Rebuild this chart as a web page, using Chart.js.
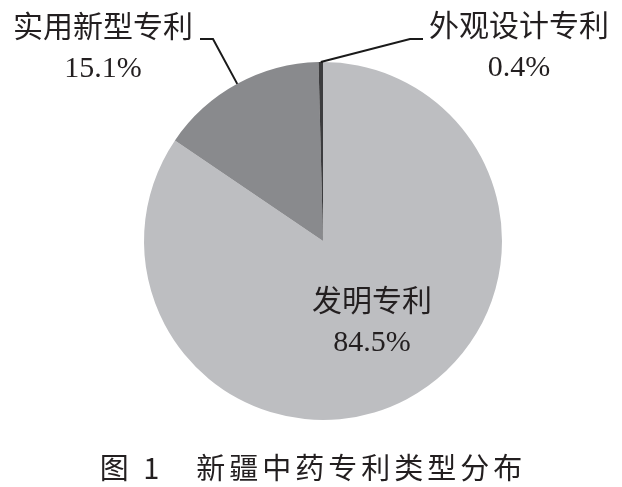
<!DOCTYPE html>
<html>
<head>
<meta charset="utf-8">
<script src="https://cdn.jsdelivr.net/npm/chart.js@4/dist/chart.umd.min.js"></script>
<style>
  html, body { margin: 0; padding: 0; background: #ffffff; }
  #wrap { width: 622px; height: 487px; position: relative; }
</style>
</head>
<body>
<div id="wrap"><canvas id="c" width="622" height="487"></canvas></div>
<script>
// Patent types and their shares (%)
const categories = ['发明专利', '实用新型专利', '外观设计专利'];
const shares = [84.5, 15.1, 0.4];
const sliceColors = ['#bdbec1', '#898a8d', '#3c3c3e'];
const caption = '图 1\u3000新疆中药专利类型分布';

const cjkFont = '"Noto Sans CJK SC", "Noto Sans", sans-serif';
const numFont = '"Liberation Serif", "DejaVu Serif", serif';
const inkColor = '#231f20';

// Where each slice's label block sits; slices with a leader get an elbow + tail.
const labelLayout = {
  '发明专利':     { cx: 372, nameY: 300, pctY: 343 },
  '实用新型专利': { cx: 103, nameY: 26, pctY: 69, elbow: [213, 39], tail: [200, 39] },
  '外观设计专利': { cx: 519, nameY: 25, pctY: 68, elbow: [410, 39], tail: [423, 39] }
};

const labelPlugin = {
  id: 'sliceLabels',
  afterDraw(chart) {
    const ctx = chart.ctx;
    const arcs = chart.getDatasetMeta(0).data;
    ctx.save();
    ctx.fillStyle = inkColor;
    ctx.strokeStyle = '#1a1a1a';
    ctx.textAlign = 'center';
    ctx.textBaseline = 'middle';
    categories.forEach((name, i) => {
      const L = labelLayout[name];
      const arc = arcs[i];
      if (L.elbow) {
        const mid = (arc.startAngle + arc.endAngle) / 2;
        const ex = arc.x + arc.outerRadius * Math.cos(mid);
        const ey = arc.y + arc.outerRadius * Math.sin(mid);
        ctx.lineWidth = 2;
        ctx.beginPath();
        ctx.moveTo(ex, ey);
        ctx.lineTo(L.elbow[0], L.elbow[1]);
        ctx.lineTo(L.tail[0], L.tail[1]);
        ctx.stroke();
      }
      ctx.font = '30px ' + cjkFont;
      ctx.fillText(name, L.cx, L.nameY);
      ctx.font = '30px ' + numFont;
      ctx.fillText(shares[i].toFixed(1) + '%', L.cx, L.pctY);
    });
    // figure caption
    ctx.font = '29px ' + cjkFont;
    ctx.letterSpacing = '4px';
    ctx.fillText(caption, 313, 468);
    ctx.restore();
  }
};

new Chart(document.getElementById('c'), {
  type: 'pie',
  data: {
    labels: categories,
    datasets: [{
      data: shares,
      backgroundColor: sliceColors,
      borderWidth: 0
    }]
  },
  options: {
    responsive: false,
    animation: false,
    layout: { padding: { left: 144, right: 120, top: 62, bottom: 67 } },
    plugins: {
      legend: { display: false },
      tooltip: { enabled: false }
    }
  },
  plugins: [labelPlugin]
});
</script>
</body>
</html>
